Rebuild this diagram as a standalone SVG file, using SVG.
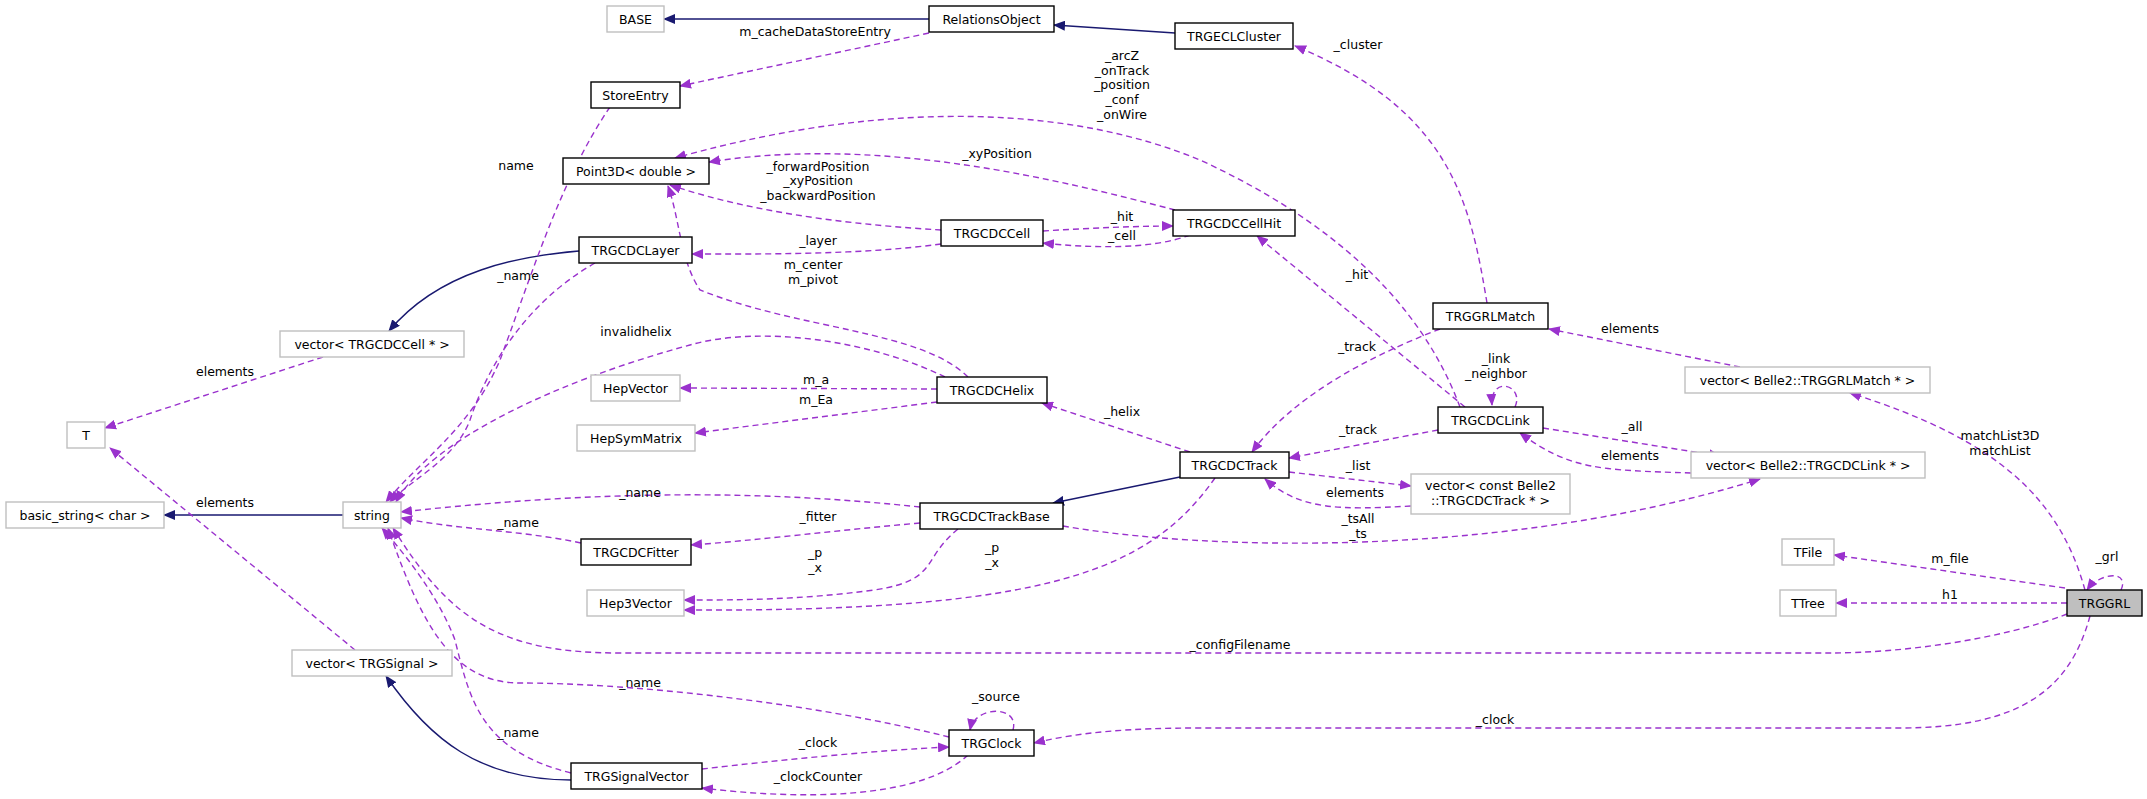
<svg xmlns="http://www.w3.org/2000/svg" width="2147" height="799" viewBox="0 0 2147 799">
<style>
.n rect{fill:#fff;stroke:#000;stroke-width:1.4}
.g rect{fill:#fff;stroke:#bfbfbf;stroke-width:1.4}
.n text,.g text,.lb{font-family:"DejaVu Sans",sans-serif;font-size:12.5px;text-anchor:middle;fill:#000}
.d{fill:none;stroke:#9a32cd;stroke-width:1.4;stroke-dasharray:6,4;marker-end:url(#pa)}
.i{fill:none;stroke:#191970;stroke-width:1.4;marker-end:url(#na)}
</style>
<defs>
<marker id="pa" markerWidth="12" markerHeight="10" refX="11" refY="5" orient="auto" markerUnits="userSpaceOnUse"><path d="M0,0L12,5L0,10z" fill="#9a32cd"/></marker>
<marker id="na" markerWidth="12" markerHeight="10" refX="11" refY="5" orient="auto" markerUnits="userSpaceOnUse"><path d="M0,0L12,5L0,10z" fill="#191970"/></marker>
</defs>
<rect width="2147" height="799" fill="#fff"/>
<g id="edges">
<path class="i" d="M929,19L664,19"/>
<path class="i" d="M1175,33L1054,25"/>
<path class="i" d="M579,251C520,256 440,270 389,331"/>
<path class="i" d="M1180,477L1053,503"/>
<path class="i" d="M343,515L164,515"/>
<path class="i" d="M571,780C480,780 430,740 386,676"/>
<path class="d" d="M929,33L680,86"/>
<path class="d" d="M610,107C560,180 530,280 500,360C470,430 420,460 386,502"/>
<path class="d" d="M595,263C530,300 490,360 470,420C455,460 410,480 390,502"/>
<path class="d" d="M945,377C870,340 760,325 690,345C560,380 430,440 396,502"/>
<path class="d" d="M323,357L105,428"/>
<path class="d" d="M355,650L110,448"/>
<path class="d" d="M941,230C860,225 760,215 670,185"/>
<path class="d" d="M1175,210C1060,180 880,135 709,162"/>
<path class="d" d="M1460,407C1420,300 1330,220 1200,160C1080,110 900,95 675,158"/>
<path class="d" d="M968,377C920,330 800,330 700,290C680,260 680,220 668,186"/>
<path class="d" d="M941,244C860,255 760,254 692,254"/>
<path class="d" d="M1043,231C1090,228 1140,226 1173,226"/>
<path class="d" d="M1190,235C1150,250 1090,248 1043,243"/>
<path class="d" d="M1487,303C1470,200 1450,110 1295,46"/>
<path class="d" d="M1465,407L1257,236"/>
<path class="d" d="M1440,329C1360,360 1290,400 1252,452"/>
<path class="d" d="M1515,407C1525,385 1490,375 1492,405"/>
<path class="d" d="M1740,367L1549,329"/>
<path class="d" d="M2085,590C2060,500 2000,440 1850,393"/>
<path class="d" d="M1438,430L1289,458"/>
<path class="d" d="M1190,452L1042,403"/>
<path class="d" d="M1543,428L1720,456"/>
<path class="d" d="M1691,473C1600,470 1570,470 1520,433"/>
<path class="d" d="M1289,472L1411,486"/>
<path class="d" d="M1411,506C1340,510 1300,510 1265,479"/>
<path class="d" d="M1063,526C1200,550 1500,560 1760,479"/>
<path class="d" d="M1215,478C1150,570 1050,612 684,610"/>
<path class="d" d="M958,529C920,560 940,580 874,590C800,600 740,600 684,600"/>
<path class="d" d="M920,507C760,490 600,490 401,512"/>
<path class="d" d="M920,523C840,530 760,540 691,545"/>
<path class="d" d="M581,543C520,530 460,530 401,518"/>
<path class="d" d="M937,389L680,388"/>
<path class="d" d="M937,402L695,433"/>
<path class="d" d="M2065,588L1834,555"/>
<path class="d" d="M2067,603L1836,603"/>
<path class="d" d="M2121,590C2130,570 2100,572 2087,590"/>
<path class="d" d="M2067,614C2000,640 1900,653 1830,653L620,653C500,653 450,620 393,528"/>
<path class="d" d="M2090,616C2070,690 2020,728 1900,728L1200,728C1130,728 1080,732 1034,743"/>
<path class="d" d="M949,737C800,700 620,683 520,683C450,683 420,620 388,528"/>
<path class="d" d="M571,773C480,750 470,700 455,640C440,600 410,560 382,528"/>
<path class="d" d="M702,769C780,760 880,750 949,747"/>
<path class="d" d="M968,755C920,800 800,800 702,788"/>
<path class="d" d="M1013,730C1020,705 975,705 970,730"/>
</g>
<g id="labels">
<text class="lb" x="815" y="36">m_cacheDataStoreEntry</text>
<text class="lb" x="516" y="170">name</text>
<text class="lb" x="518" y="280">_name</text>
<text class="lb" x="636" y="336">invalidhelix</text>
<text class="lb" x="225" y="376">elements</text>
<text class="lb" x="225" y="507">elements</text>
<text class="lb" x="818" y="171">_forwardPosition</text>
<text class="lb" x="818" y="185">_xyPosition</text>
<text class="lb" x="818" y="200">_backwardPosition</text>
<text class="lb" x="997" y="158">_xyPosition</text>
<text class="lb" x="1122" y="60">_arcZ</text>
<text class="lb" x="1122" y="75">_onTrack</text>
<text class="lb" x="1122" y="89">_position</text>
<text class="lb" x="1122" y="104">_conf</text>
<text class="lb" x="1122" y="119">_onWire</text>
<text class="lb" x="813" y="269">m_center</text>
<text class="lb" x="813" y="284">m_pivot</text>
<text class="lb" x="818" y="245">_layer</text>
<text class="lb" x="1122" y="221">_hit</text>
<text class="lb" x="1122" y="240">_cell</text>
<text class="lb" x="1358" y="49">_cluster</text>
<text class="lb" x="1357" y="279">_hit</text>
<text class="lb" x="1357" y="351">_track</text>
<text class="lb" x="1496" y="363">_link</text>
<text class="lb" x="1496" y="378">_neighbor</text>
<text class="lb" x="1630" y="333">elements</text>
<text class="lb" x="2000" y="440">matchList3D</text>
<text class="lb" x="2000" y="455">matchList</text>
<text class="lb" x="1358" y="434">_track</text>
<text class="lb" x="1122" y="416">_helix</text>
<text class="lb" x="1632" y="431">_all</text>
<text class="lb" x="1630" y="460">elements</text>
<text class="lb" x="1358" y="470">_list</text>
<text class="lb" x="1355" y="497">elements</text>
<text class="lb" x="1358" y="523">_tsAll</text>
<text class="lb" x="1358" y="538">_ts</text>
<text class="lb" x="992" y="552">_p</text>
<text class="lb" x="992" y="567">_x</text>
<text class="lb" x="815" y="557">_p</text>
<text class="lb" x="815" y="572">_x</text>
<text class="lb" x="640" y="497">_name</text>
<text class="lb" x="818" y="521">_fitter</text>
<text class="lb" x="518" y="527">_name</text>
<text class="lb" x="816" y="384">m_a</text>
<text class="lb" x="816" y="404">m_Ea</text>
<text class="lb" x="1950" y="563">m_file</text>
<text class="lb" x="1950" y="599">h1</text>
<text class="lb" x="2107" y="561">_grl</text>
<text class="lb" x="1240" y="649">_configFilename</text>
<text class="lb" x="1495" y="724">_clock</text>
<text class="lb" x="640" y="687">_name</text>
<text class="lb" x="518" y="737">_name</text>
<text class="lb" x="818" y="747">_clock</text>
<text class="lb" x="818" y="781">_clockCounter</text>
<text class="lb" x="996" y="701">_source</text>
</g>
<g id="BASE" class="g"><rect x="607" y="6" width="57" height="26"/><text x="635.5" y="23.5">BASE</text></g>
<g id="RelationsObject" class="n"><rect x="929" y="6" width="125" height="26"/><text x="991.5" y="23.5">RelationsObject</text></g>
<g id="TRGECLCluster" class="n"><rect x="1175" y="23" width="118" height="26"/><text x="1234" y="40.5">TRGECLCluster</text></g>
<g id="StoreEntry" class="n"><rect x="591" y="82" width="89" height="26"/><text x="635.5" y="99.5">StoreEntry</text></g>
<g id="Point3D" class="n"><rect x="563" y="158" width="146" height="26"/><text x="636" y="175.5">Point3D&lt; double &gt;</text></g>
<g id="TRGCDCCell" class="n"><rect x="941" y="220" width="102" height="26"/><text x="992" y="237.5">TRGCDCCell</text></g>
<g id="TRGCDCCellHit" class="n"><rect x="1173" y="210" width="122" height="26"/><text x="1234" y="227.5">TRGCDCCellHit</text></g>
<g id="TRGCDCLayer" class="n"><rect x="579" y="237" width="113" height="26"/><text x="635.5" y="254.5">TRGCDCLayer</text></g>
<g id="vecCell" class="g"><rect x="280" y="331" width="184" height="26"/><text x="372" y="348.5">vector&lt; TRGCDCCell * &gt;</text></g>
<g id="HepVector" class="g"><rect x="591" y="375" width="89" height="26"/><text x="635.5" y="392.5">HepVector</text></g>
<g id="TRGCDCHelix" class="n"><rect x="937" y="377" width="110" height="26"/><text x="992" y="394.5">TRGCDCHelix</text></g>
<g id="TRGGRLMatch" class="n"><rect x="1433" y="303" width="115" height="26"/><text x="1490.5" y="320.5">TRGGRLMatch</text></g>
<g id="vecMatch" class="g"><rect x="1685" y="367" width="245" height="26"/><text x="1807.5" y="384.5">vector&lt; Belle2::TRGGRLMatch * &gt;</text></g>
<g id="TRGCDCLink" class="n"><rect x="1438" y="407" width="105" height="26"/><text x="1490.5" y="424.5">TRGCDCLink</text></g>
<g id="TRGCDCTrack" class="n"><rect x="1180" y="452" width="109" height="26"/><text x="1234.5" y="469.5">TRGCDCTrack</text></g>
<g id="vecTrack" class="g"><rect x="1411" y="474" width="159" height="40"/><text x="1490.5" y="490">vector&lt; const Belle2</text><text x="1490.5" y="505">::TRGCDCTrack * &gt;</text></g>
<g id="vecLink" class="g"><rect x="1691" y="452" width="234" height="26"/><text x="1808" y="469.5">vector&lt; Belle2::TRGCDCLink * &gt;</text></g>
<g id="TFile" class="g"><rect x="1782" y="539" width="52" height="26"/><text x="1808" y="556.5">TFile</text></g>
<g id="TTree" class="g"><rect x="1780" y="590" width="56" height="26"/><text x="1808" y="607.5">TTree</text></g>
<g id="TRGGRL"><rect x="2067" y="590" width="75" height="26" fill="#bfbfbf" stroke="#000" stroke-width="1.4"/><text x="2104.5" y="607.5" font-family="DejaVu Sans,sans-serif" font-size="12.5" text-anchor="middle">TRGGRL</text></g>
<g id="T" class="g"><rect x="67" y="422" width="38" height="26"/><text x="86" y="439.5">T</text></g>
<g id="basic_string" class="g"><rect x="6" y="502" width="158" height="26"/><text x="85" y="519.5">basic_string&lt; char &gt;</text></g>
<g id="string" class="g"><rect x="343" y="502" width="58" height="26"/><text x="372" y="519.5">string</text></g>
<g id="HepSymMatrix" class="g"><rect x="577" y="425" width="118" height="26"/><text x="636" y="442.5">HepSymMatrix</text></g>
<g id="TRGCDCTrackBase" class="n"><rect x="920" y="503" width="143" height="26"/><text x="991.5" y="520.5">TRGCDCTrackBase</text></g>
<g id="TRGCDCFitter" class="n"><rect x="581" y="539" width="110" height="26"/><text x="636" y="556.5">TRGCDCFitter</text></g>
<g id="Hep3Vector" class="g"><rect x="587" y="590" width="97" height="26"/><text x="635.5" y="607.5">Hep3Vector</text></g>
<g id="vecSignal" class="g"><rect x="292" y="650" width="160" height="26"/><text x="372" y="667.5">vector&lt; TRGSignal &gt;</text></g>
<g id="TRGClock" class="n"><rect x="949" y="730" width="85" height="26"/><text x="991.5" y="747.5">TRGClock</text></g>
<g id="TRGSignalVector" class="n"><rect x="571" y="763" width="131" height="26"/><text x="636.5" y="780.5">TRGSignalVector</text></g>
</svg>
